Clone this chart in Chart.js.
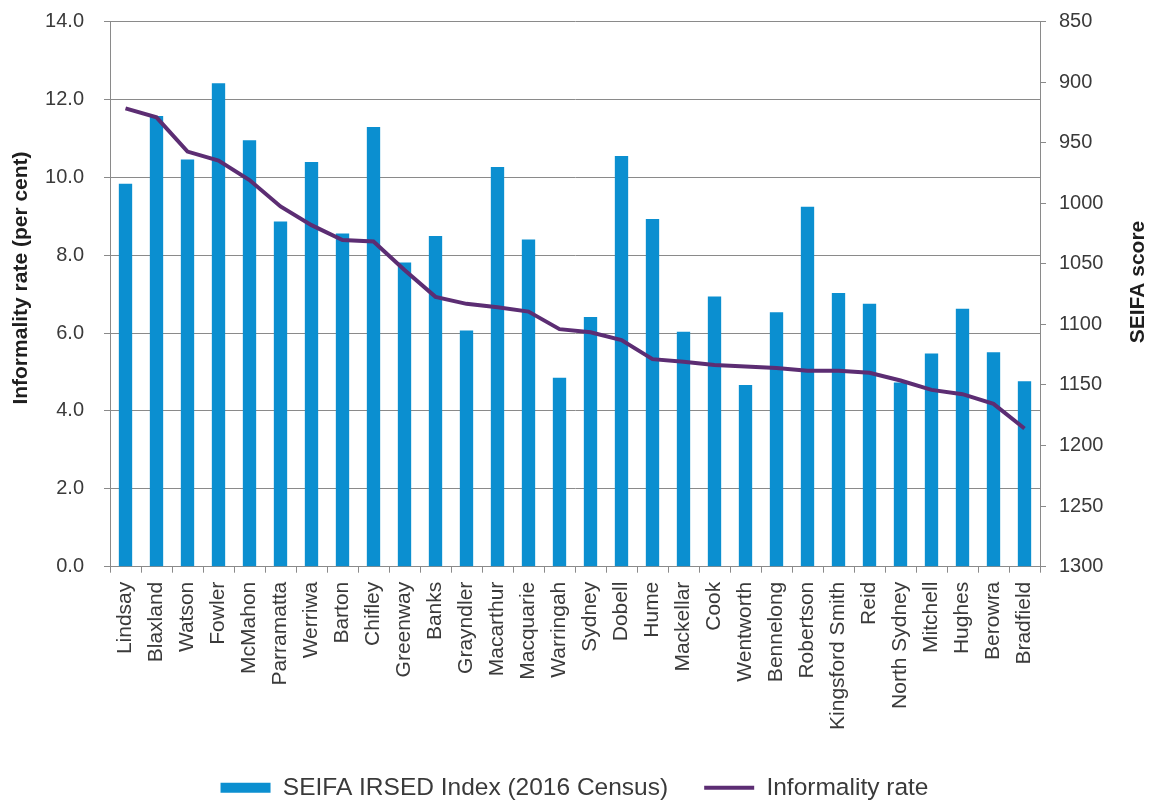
<!DOCTYPE html>
<html>
<head>
<meta charset="utf-8">
<script src="https://cdn.jsdelivr.net/npm/chart.js@4/dist/chart.umd.min.js"></script>
<style>
    html, body { margin: 0; padding: 0; background: #ffffff; }
    #wrap { width: 1149px; height: 801px; position: relative; }
</style>
</head>
<body>
<div id="wrap"><canvas id="chart"></canvas></div>
<script>
const ELECTORATES = ["Lindsay", "Blaxland", "Watson", "Fowler", "McMahon", "Parramatta", "Werriwa", "Barton", "Chifley", "Greenway",
    "Banks", "Grayndler", "Macarthur", "Macquarie", "Warringah", "Sydney", "Dobell", "Hume", "Mackellar", "Cook",
    "Wentworth", "Bennelong", "Robertson", "Kingsford Smith", "Reid", "North Sydney", "Mitchell", "Hughes", "Berowra", "Bradfield"];

// SEIFA IRSED score (right axis, reversed)
const SEIFA_SCORE = [984, 928, 964, 901, 948, 1015, 966, 1025, 937, 1049,
    1027, 1105, 970, 1030, 1144, 1094, 961, 1013, 1106, 1077,
    1150, 1090, 1003, 1074, 1083, 1148, 1124, 1087, 1123, 1147];

// informality rate, per cent (left axis)
const INFORMALITY = [11.77, 11.54, 10.66, 10.43, 9.93, 9.25, 8.77, 8.39, 8.35, 7.62,
    6.93, 6.75, 6.66, 6.55, 6.10, 6.02, 5.82, 5.33, 5.26, 5.18,
    5.14, 5.10, 5.03, 5.03, 4.98, 4.78, 4.54, 4.43, 4.18, 3.55];

const LEFT_AXIS = { min: 0, max: 14, step: 2 };
const RIGHT_AXIS = { min: 850, max: 1300, step: 50 };

const BAR_COLOR = "#0b8fd0";
const LINE_COLOR = "#5c2d73";
const GRID_COLOR = "#8a8a8a";
const TEXT_COLOR = "#3a3a3a";
const FONT = "'Liberation Sans', Arial, sans-serif";

const CHART_TOP = 21.5;
const CHART_BOTTOM = 566.7;
const PAD_BOTTOM = -9;

// axis titles drawn by hand so the right one reads bottom-to-top like the original
const axisTitles = {
    id: "axisTitles",
    afterDraw(chart) {
        const ctx = chart.ctx;
        const titles = [
            { text: "Informality rate (per cent)", x: 21, y: 278 },
            { text: "SEIFA score", x: 1138, y: 282 },
        ];
        titles.forEach((t) => {
            ctx.save();
            ctx.fillStyle = "#1e1e1e";
            ctx.font = `bold 21px ${FONT}`;
            ctx.textAlign = "center";
            ctx.textBaseline = "middle";
            ctx.translate(t.x, t.y);
            ctx.rotate(-Math.PI / 2);
            ctx.fillText(t.text, 0, 0);
            ctx.restore();
        });
    },
};

function pinVertical(width) {
    return (scale) => {
        scale.width = width;
        scale.paddingTop = 0;
        scale.paddingBottom = 0;
    };
}

new Chart(document.getElementById("chart"), {
    type: "bar",
    data: {
        labels: ELECTORATES,
        datasets: [
            {
                type: "bar",
                label: "SEIFA IRSED Index (2016 Census)",
                data: SEIFA_SCORE,
                yAxisID: "y1",
                base: RIGHT_AXIS.max,
                backgroundColor: BAR_COLOR,
                borderWidth: 0,
                barPercentage: 0.43,
                categoryPercentage: 1.0,
                pointStyle: "rect",
                order: 1,
            },
            {
                type: "line",
                label: "Informality rate",
                data: INFORMALITY,
                yAxisID: "y",
                borderColor: LINE_COLOR,
                backgroundColor: LINE_COLOR,
                borderWidth: 4,
                pointRadius: 0,
                tension: 0,
                fill: false,
                pointStyle: "line",
                order: 0,
            },
        ],
    },
    options: {
        responsive: true,
        maintainAspectRatio: false,
        animation: false,
        devicePixelRatio: 1,
        layout: { padding: { top: CHART_TOP, left: 0, right: 0, bottom: PAD_BOTTOM } },
        plugins: {
            legend: {
                position: "bottom",
                labels: {
                    usePointStyle: true,
                    pointStyleWidth: 50,
                    boxHeight: 10,
                    boxWidth: 50,
                    color: TEXT_COLOR,
                    font: { family: FONT, size: 24.5 },
                    padding: 2,
                    sort: (a, b) => a.datasetIndex - b.datasetIndex,
                    generateLabels(chart) {
                        const items = Chart.defaults.plugins.legend.labels.generateLabels(chart);
                        // extra room after the first entry, as in the original
                        items.forEach((item) => {
                            if (item.datasetIndex === 0) item.text = item.text + "     ";
                        });
                        return items;
                    },
                },
            },
            tooltip: { enabled: false },
        },
        scales: {
            x: {
                grid: { display: true, drawOnChartArea: false, offset: true, tickLength: 6, color: GRID_COLOR },
                border: { color: GRID_COLOR, width: 1 },
                ticks: {
                    autoSkip: false,
                    minRotation: 90,
                    maxRotation: 90,
                    padding: 9,
                    color: TEXT_COLOR,
                    font: { family: FONT, size: 21 },
                },
                afterFit(scale) {
                    const legendHeight = scale.chart.legend ? scale.chart.legend.height : 0;
                    scale.height = 801 - PAD_BOTTOM - CHART_BOTTOM - legendHeight;
                },
            },
            y: {
                position: "left",
                min: LEFT_AXIS.min,
                max: LEFT_AXIS.max,
                grid: { color: GRID_COLOR, tickLength: 6 },
                border: { color: GRID_COLOR, width: 1 },
                ticks: {
                    stepSize: LEFT_AXIS.step,
                    padding: 20,
                    color: TEXT_COLOR,
                    font: { family: FONT, size: 20 },
                    callback: (v) => Number(v).toFixed(1),
                },
                afterFit: pinVertical(110),
            },
            y1: {
                position: "right",
                reverse: true,
                min: RIGHT_AXIS.min,
                max: RIGHT_AXIS.max,
                grid: { drawOnChartArea: false, tickLength: 6, color: GRID_COLOR },
                border: { color: GRID_COLOR, width: 1 },
                ticks: {
                    stepSize: RIGHT_AXIS.step,
                    padding: 13,
                    color: TEXT_COLOR,
                    font: { family: FONT, size: 20 },
                    callback: (v) => String(v),
                },
                afterFit: pinVertical(109),
            },
        },
    },
    plugins: [axisTitles],
});
</script>
</body>
</html>
